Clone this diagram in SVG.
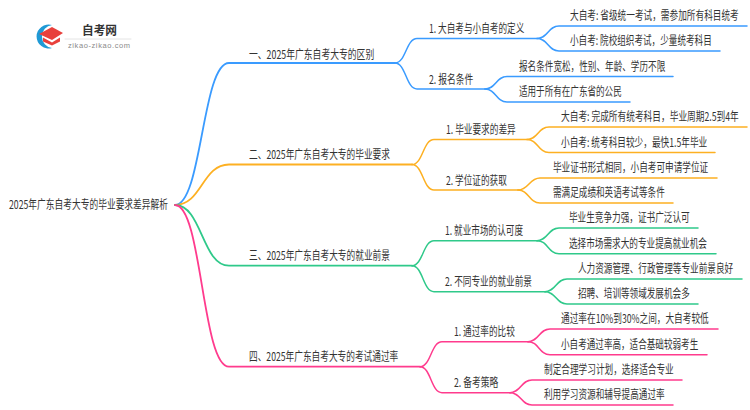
<svg xmlns="http://www.w3.org/2000/svg" width="750" height="410" viewBox="0 0 750 410">
<style>
text{font-family:"Noto Sans CJK SC","Liberation Sans",sans-serif;font-size:12px;fill:#333}
path{fill:none;stroke-width:1.5;stroke-linecap:round}
.b{stroke:#3a9bff}.o{stroke:#fdb022}.g{stroke:#2fc98a}.p{stroke:#ff3b8d}
.m{stroke-width:1.8}
</style>
<rect width="750" height="410" fill="#fff"/>
<g id="logo">
<path d="M52 25A12 12 0 1 0 52 48A11.600 11.600 0 0 1 52 25Z" style="fill:#1f9ad6;stroke:none"/>
<polygon points="39,34 52,27 63,33 52,40" fill="#e8403c"/>
<polygon points="43,37.500 52,42.500 60,37.500 60,41.500 52,45.500 43,41.500" fill="#e8403c"/>
<text x="82" y="35" style="font-size:12px;font-weight:700" textLength="35" lengthAdjust="spacingAndGlyphs">自考网</text>
<path d="M65 39H131" style="stroke:#e4e4e4;stroke-width:1"/>
<text x="68" y="48" style="font-size:7.500px;fill:#8a8a8a;font-family:'Liberation Sans',sans-serif" textLength="62" lengthAdjust="spacing">zikao-zikao.com</text>
</g>
<g id="connectors">
<path class="b m" d="M175 205C202 205 202 63 229 63H395"/>
<path class="b" d="M395 63C406 63 406 38.500 417 38.500H537"/>
<path class="b" d="M537 38.500C548 38.500 548 26 559 26H747"/>
<path class="b" d="M537 38.500C548 38.500 548 51 559 51H720"/>
<path class="b" d="M395 63C406 63 406 89 417 89H485"/>
<path class="b" d="M485 89C496 89 496 76.500 507 76.500H673"/>
<path class="b" d="M485 89C496 89 496 102 507 102H630"/>
<path class="o m" d="M175 205C202 205 202 164.500 229 164.500H412"/>
<path class="o" d="M412 164.500C423 164.500 423 139.500 434 139.500H527"/>
<path class="o" d="M527 139.500C538 139.500 538 127 549 127H747"/>
<path class="o" d="M527 139.500C538 139.500 538 152.500 549 152.500H715"/>
<path class="o" d="M412 164.500C423 164.500 423 190 434 190H518"/>
<path class="o" d="M518 190C529 190 529 178 540 178H717"/>
<path class="o" d="M518 190C529 190 529 203 540 203H673"/>
<path class="g m" d="M175 205C202 205 202 265.700 229 265.700H412"/>
<path class="g" d="M412 265.700C423 265.700 423 240.700 434 240.700H537"/>
<path class="g" d="M537 240.700C548 240.700 548 228 559 228H698"/>
<path class="g" d="M537 240.700C548 240.700 548 253.700 559 253.700H716"/>
<path class="g" d="M412 265.700C423 265.700 423 291.700 434 291.700H545"/>
<path class="g" d="M545 291.700C556 291.700 556 279 567 279H742"/>
<path class="g" d="M545 291.700C556 291.700 556 304 567 304H698"/>
<path class="p m" d="M175 205C202 205 202 366.700 229 366.700H420"/>
<path class="p" d="M420 366.700C431 366.700 431 341.700 442 341.700H528"/>
<path class="p" d="M528 341.700C539 341.700 539 329 550 329H718"/>
<path class="p" d="M528 341.700C539 341.700 539 354.700 550 354.700H707"/>
<path class="p" d="M420 366.700C431 366.700 431 392.700 442 392.700H510"/>
<path class="p" d="M510 392.700C521 392.700 521 380 532 380H682"/>
<path class="p" d="M510 392.700C521 392.700 521 405 532 405H673"/>
</g>
<g id="root"><text transform="translate(9 209) scale(.75 1)" textLength="212" lengthAdjust="spacingAndGlyphs">2025年广东自考大专的毕业要求差异解析</text></g>
<g id="n1"><text transform="translate(249 59) scale(.75 1)" textLength="167" lengthAdjust="spacingAndGlyphs">一、2025年广东自考大专的区别</text></g>
<g id="n1-1"><text transform="translate(429 33) scale(.75 1)" textLength="127" lengthAdjust="spacingAndGlyphs">1. 大自考与小自考的定义</text></g>
<g id="n1-1-1"><text transform="translate(570 20) scale(.75 1)" textLength="225" lengthAdjust="spacingAndGlyphs">大自考: 省级统一考试，需参加所有科目统考</text></g>
<g id="n1-1-2"><text transform="translate(570 45) scale(.75 1)" textLength="189" lengthAdjust="spacingAndGlyphs">小自考: 院校组织考试，少量统考科目</text></g>
<g id="n1-2"><text transform="translate(429 84) scale(.75 1)" textLength="59" lengthAdjust="spacingAndGlyphs">2. 报名条件</text></g>
<g id="n1-2-1"><text transform="translate(519 71) scale(.75 1)" textLength="195" lengthAdjust="spacingAndGlyphs">报名条件宽松，性别、年龄、学历不限</text></g>
<g id="n1-2-2"><text transform="translate(519 96) scale(.75 1)" textLength="137" lengthAdjust="spacingAndGlyphs">适用于所有在广东省的公民</text></g>
<g id="n2"><text transform="translate(249 159) scale(.75 1)" textLength="188" lengthAdjust="spacingAndGlyphs">二、2025年广东自考大专的毕业要求</text></g>
<g id="n2-1"><text transform="translate(446 134) scale(.75 1)" textLength="93" lengthAdjust="spacingAndGlyphs">1. 毕业要求的差异</text></g>
<g id="n2-1-1"><text transform="translate(561 121) scale(.75 1)" textLength="237" lengthAdjust="spacingAndGlyphs">大自考: 完成所有统考科目，毕业周期2.5到4年</text></g>
<g id="n2-1-2"><text transform="translate(561 147) scale(.75 1)" textLength="195" lengthAdjust="spacingAndGlyphs">小自考: 统考科目较少，最快1.5年毕业</text></g>
<g id="n2-2"><text transform="translate(446 185) scale(.75 1)" textLength="81" lengthAdjust="spacingAndGlyphs">2. 学位证的获取</text></g>
<g id="n2-2-1"><text transform="translate(553 172) scale(.75 1)" textLength="207" lengthAdjust="spacingAndGlyphs">毕业证书形式相同，小自考可申请学位证</text></g>
<g id="n2-2-2"><text transform="translate(553 197) scale(.75 1)" textLength="149" lengthAdjust="spacingAndGlyphs">需满足成绩和英语考试等条件</text></g>
<g id="n3"><text transform="translate(249 260) scale(.75 1)" textLength="188" lengthAdjust="spacingAndGlyphs">三、2025年广东自考大专的就业前景</text></g>
<g id="n3-1"><text transform="translate(445 235) scale(.75 1)" textLength="104" lengthAdjust="spacingAndGlyphs">1. 就业市场的认可度</text></g>
<g id="n3-1-1"><text transform="translate(569 222) scale(.75 1)" textLength="161" lengthAdjust="spacingAndGlyphs">毕业生竞争力强，证书广泛认可</text></g>
<g id="n3-1-2"><text transform="translate(569 248) scale(.75 1)" textLength="184" lengthAdjust="spacingAndGlyphs">选择市场需求大的专业提高就业机会</text></g>
<g id="n3-2"><text transform="translate(445 286) scale(.75 1)" textLength="116" lengthAdjust="spacingAndGlyphs">2. 不同专业的就业前景</text></g>
<g id="n3-2-1"><text transform="translate(578 273) scale(.75 1)" textLength="207" lengthAdjust="spacingAndGlyphs">人力资源管理、行政管理等专业前景良好</text></g>
<g id="n3-2-2"><text transform="translate(578 298) scale(.75 1)" textLength="149" lengthAdjust="spacingAndGlyphs">招聘、培训等领域发展机会多</text></g>
<g id="n4"><text transform="translate(249 361) scale(.75 1)" textLength="199" lengthAdjust="spacingAndGlyphs">四、2025年广东自考大专的考试通过率</text></g>
<g id="n4-1"><text transform="translate(454 336) scale(.75 1)" textLength="81" lengthAdjust="spacingAndGlyphs">1. 通过率的比较</text></g>
<g id="n4-1-1"><text transform="translate(561 323) scale(.75 1)" textLength="197" lengthAdjust="spacingAndGlyphs">通过率在10%到30%之间，大自考较低</text></g>
<g id="n4-1-2"><text transform="translate(561 349) scale(.75 1)" textLength="183" lengthAdjust="spacingAndGlyphs">小自考通过率高，适合基础较弱考生</text></g>
<g id="n4-2"><text transform="translate(454 387) scale(.75 1)" textLength="59" lengthAdjust="spacingAndGlyphs">2. 备考策略</text></g>
<g id="n4-2-1"><text transform="translate(544 374) scale(.75 1)" textLength="173" lengthAdjust="spacingAndGlyphs">制定合理学习计划，选择适合专业</text></g>
<g id="n4-2-2"><text transform="translate(544 399) scale(.75 1)" textLength="161" lengthAdjust="spacingAndGlyphs">利用学习资源和辅导提高通过率</text></g>
</svg>
